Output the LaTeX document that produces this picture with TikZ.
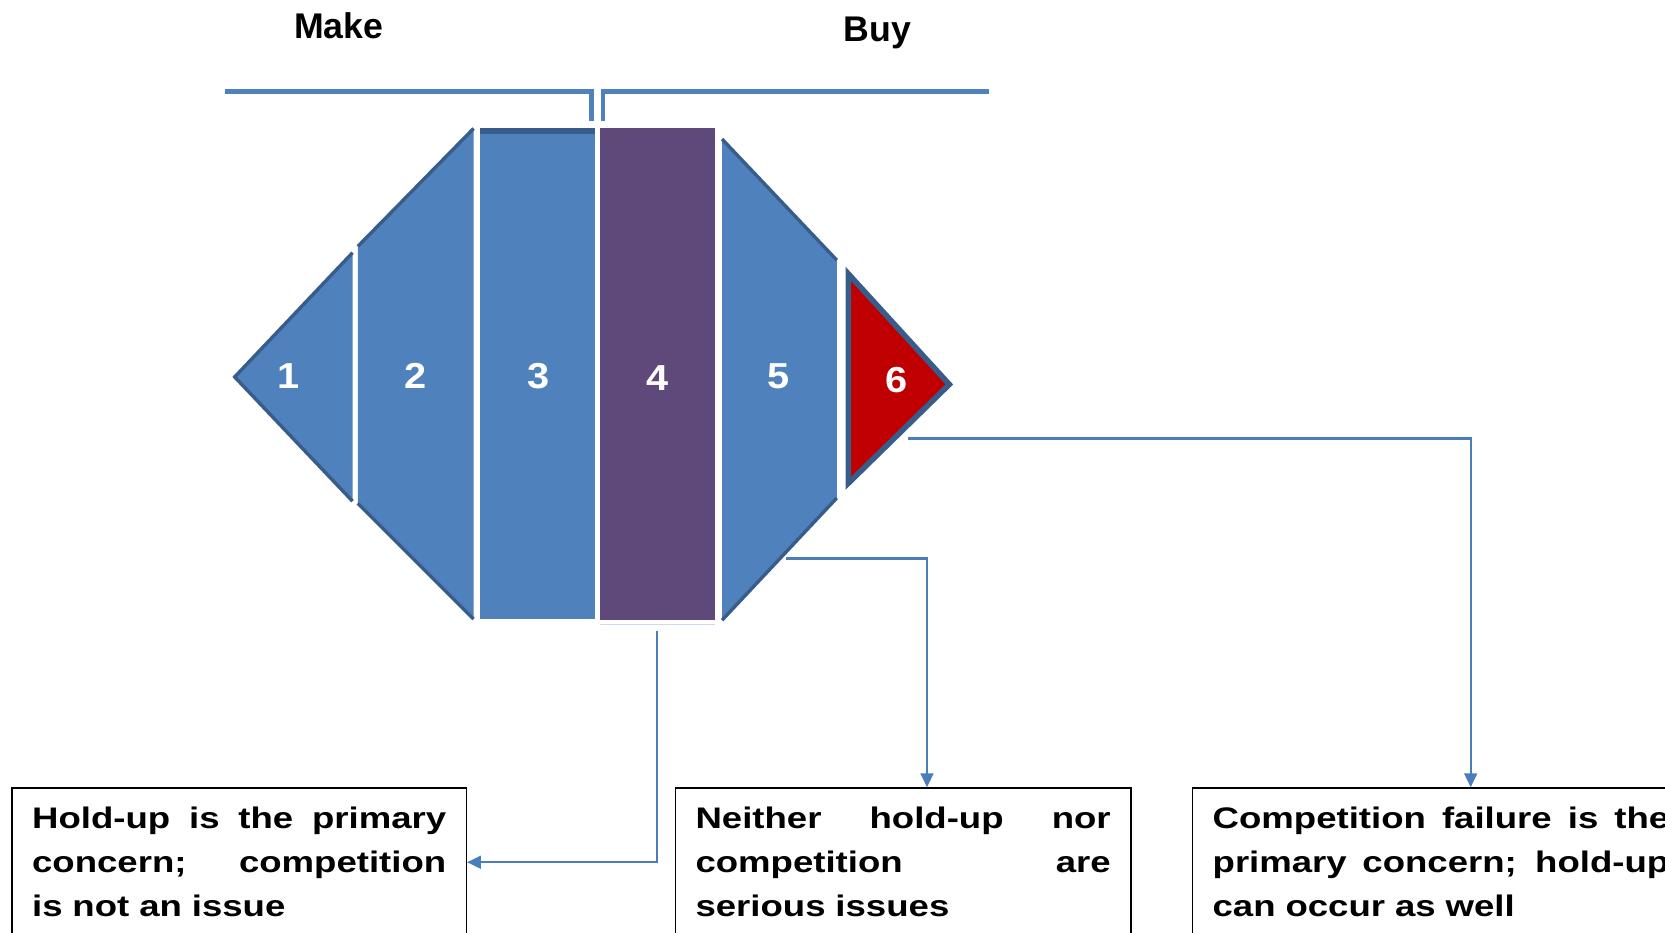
\documentclass[tikz,border=0pt]{standalone}
\usepackage{fontspec}
\setmainfont{Liberation Sans}
\newfontfamily\boxfont{Liberation Sans}[FakeStretch=1.23]
\newfontfamily\numfont{Liberation Sans}[FakeStretch=1.1]
\usetikzlibrary{arrows.meta}

\definecolor{segblue}{HTML}{4F81BD}
\definecolor{segedge}{HTML}{385D8A}
\definecolor{segpurple}{HTML}{5F497A}
\definecolor{segred}{HTML}{C00000}
\definecolor{linkblue}{HTML}{4A7EBB}

\newcommand{\fullline}[1]{{\spaceskip=0pt\xspaceskip=0pt\makebox[\hsize][s]{#1}}}

\begin{document}
\begin{tikzpicture}[x=0.5pt,y=-0.5pt,
  segrim/.style={segedge,line width=1.6pt},
  num/.style={white,font=\numfont\bfseries\fontsize{17}{17}\selectfont},
  title/.style={font=\bfseries\fontsize{16.8}{16.8}\selectfont,anchor=base},
  brk/.style={segblue,line width=2.2pt},
  conn/.style={linkblue,line width=1pt,-{Triangle[length=6.5pt,width=6pt]}},
  issue/.style={draw=black,line width=0.6pt,fill=white,minimum height=70pt,
    inner xsep=9.5pt,inner ysep=0pt,align=left,
    font=\boxfont\bfseries\fontsize{14}{20.7}\selectfont}]

\useasboundingbox (0,0) rectangle (1568,878);

%\draw[help lines,step=50] (0,0) grid (1568,878);

\node[title] (make) at (319,36) {Make};
\node[title] (buy) at (826.5,39) {Buy};

\draw[brk] (212,86) -- (557,86) -- (557,114);
\draw[brk] (568,114) -- (568,86) -- (931,86);

% make side
\fill[segblue] (221,355) -- (332,238) -- (332,472) -- cycle;
\draw[segrim] (332,238) -- (221,355) -- (332,472);
\fill[segblue] (337,232) -- (446,121) -- (446,583) -- (337,474) -- cycle;
\draw[segrim] (337,232) -- (446,121);
\draw[segrim] (337,474) -- (446,583);
\fill[segblue] (452,121) rectangle (560,583);
\fill[segedge] (452,121) rectangle (560,126);
\fill[segpurple] (565,121) rectangle (673,584);
\draw[segblue!30,line width=0.6pt] (565,588) -- (673,588);

% buy side
\fill[segblue] (680,131) -- (788,245) -- (788,469) -- (680,584) -- cycle;
\draw[segrim] (680,131) -- (788,245);
\draw[segrim] (788,469) -- (680,584);
\filldraw[fill=segred,draw=segedge,line width=2.6pt] (799,258) -- (894,362) -- (799,455) -- cycle;

\node[num] (n1) at (272,354) {1};
\node[num] (n2) at (391,354) {2};
\node[num] (n3) at (507,354) {3};
\node[num] (n4) at (619,356) {4};
\node[num] (n5) at (733,354) {5};
\node[num] (n6) at (844,358) {6};

\node[issue,text width=195pt] (hold) at (225.25,812)
  {\fullline{Hold-up is the primary}\\ \fullline{concern; competition}\\ is not an issue};
\node[issue,text width=195.5pt] (neither) at (850.5,812)
  {\fullline{Neither hold-up nor}\\ \fullline{competition are}\\ serious issues};
\node[issue,text width=215pt] (failure) at (1357,812)
  {\fullline{Competition failure is the}\\ \fullline{primary concern; hold-up}\\ can occur as well};

\coordinate (s4b) at (619,594);
\coordinate (s5b) at (740,526);
\coordinate (s6b) at (855,413);
\coordinate (k5) at (873,526);
\coordinate (k6) at (1385,413);

\draw[conn] (s4b) |- (hold.east);
\draw[conn] (s5b) -- (k5) -- (k5 |- neither.north);
\draw[conn] (s6b) -- (k6) -- (k6 |- failure.north);

\end{tikzpicture}
\end{document}
